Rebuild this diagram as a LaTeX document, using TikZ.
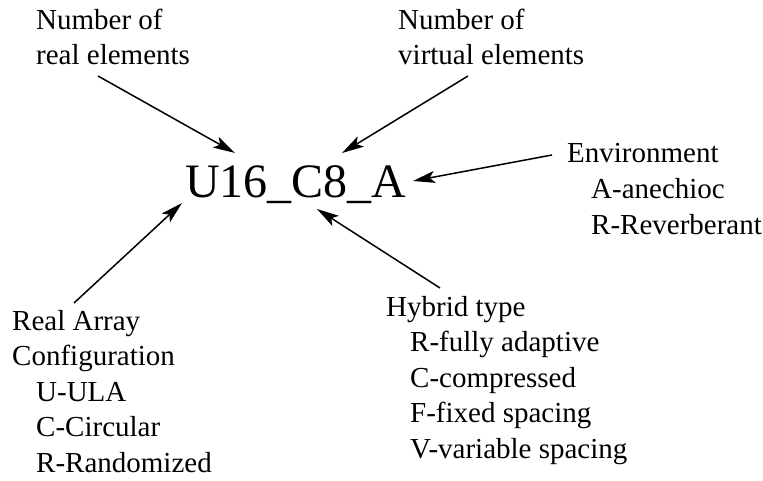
\documentclass[tikz,border=0pt]{standalone}
\usepackage{fontspec}
\setmainfont{Liberation Serif}
\usepackage{tikz}
\usetikzlibrary{arrows.meta}
\tikzset{
	every node/.style={
		font=\fontsize{29}{35.5}\selectfont
	},
	part/.style={
		shape=rectangle,
		inner sep=0pt,
		anchor=base west,
		align=left
	},
	code/.style={
		shape=rectangle,
		inner sep=0pt,
		anchor=base west,
		font=\fontsize{48}{56}\selectfont
	},
	pointer/.style={
		-{Stealth[length=22pt,width=12pt,inset=5pt]},
		line width=1.5pt
	}
}
\newcommand{\ind}{\hspace*{24pt}}

\begin{document}
\begin{tikzpicture}
	[x=1pt,y=-1pt]
	\useasboundingbox (0,0) rectangle (763,481);
	
	\node[code] (name) at (185,198) {U16\_C8\_A};
	
	\node[part] (real) at (36,65) {Number of\\real elements};
	\node[part] (virt) at (398,65) {Number of\\virtual elements};
	\node[part] (env) at (567,234) {Environment\\\ind A-anechioc\\\ind R-Reverberant};
	\node[part] (hyb) at (386,458) {Hybrid type\\\ind R-fully adaptive\\\ind C-compressed\\\ind F-fixed spacing\\\ind V-variable spacing};
	\node[part] (conf) at (12,472) {Real Array\\Configuration\\\ind U-ULA\\\ind C-Circular\\\ind R-Randomized};
	
	\draw[pointer] ([shift={(62,11)}]real.base west) -- ([shift={(50,-45)}]name.base west);
	\draw[pointer] ([shift={(70,11)}]virt.base west) -- ([shift={(157,-45)}]name.base west);
	\draw[pointer] ([shift={(-15,-79)}]env.base west) -- ([shift={(228,-17)}]name.base west);
	\draw[pointer] ([shift={(54,-170)}]hyb.base west) -- ([shift={(132,11)}]name.base west);
	\draw[pointer] ([shift={(62,-169)}]conf.base west) -- ([shift={(-3,5)}]name.base west);
\end{tikzpicture}
\end{document}
